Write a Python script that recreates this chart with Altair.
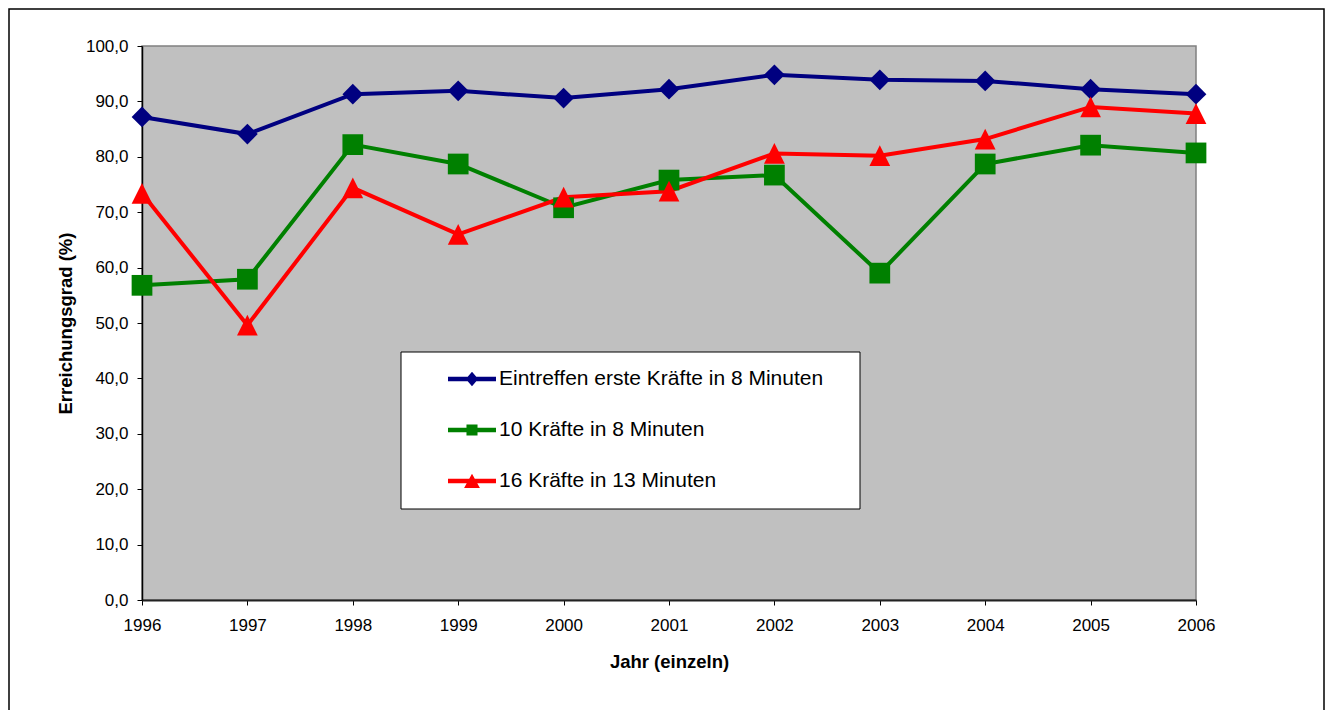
import altair as alt
import pandas as pd

years = [1996, 1997, 1998, 1999, 2000, 2001, 2002, 2003, 2004, 2005, 2006]
series_names = [
    "Eintreffen erste Kräfte in 8 Minuten",
    "10 Kräfte in 8 Minuten",
    "16 Kräfte in 13 Minuten",
]
blue_vals = [87.2, 84.1, 91.3, 91.9, 90.6, 92.2, 94.8, 93.9, 93.7, 92.2, 91.3]
green_vals = [56.8, 57.9, 82.2, 78.7, 70.8, 75.8, 76.7, 59.0, 78.7, 82.1, 80.7]
red_vals = [73.4, 49.6, 74.4, 66.0, 72.7, 73.8, 80.6, 80.2, 83.2, 89.0, 87.8]
colors = ["#000080", "#008000", "#FF0000"]
y_ticks = [0, 10, 20, 30, 40, 50, 60, 70, 80, 90, 100]

rows = []
for name, vals in zip(series_names, [blue_vals, green_vals, red_vals]):
    for yr, v in zip(years, vals):
        rows.append({"year": yr, "value": v, "series": name})
df = pd.DataFrame(rows)

FONT = "Liberation Sans"
W, H = 1054, 554

marker_shapes = ["diamond", "square", "M0,-1L1,1L-1,1Z"]
legend_paths = [
    "M-1,-0.09H1V0.09H-1Z M0,-0.3L0.26,0L0,0.3L-0.26,0Z",
    "M-1,-0.09H1V0.09H-1Z M-0.23,-0.23H0.23V0.23H-0.23Z",
    "M-1,-0.09H1V0.09H-1Z M0,-0.3L0.33,0.29L-0.33,0.29Z",
]

x_enc = alt.X(
    "year:Q",
    scale=alt.Scale(domain=[1996, 2006], nice=False, zero=False),
    axis=alt.Axis(
        values=years, format="d", title="Jahr (einzeln)", grid=False,
        tickSize=5, labelPadding=12, labelFontSize=17, labelFont=FONT,
        labelColor="black", tickColor="black", domainColor="#222222", domainWidth=2,
        titleFont=FONT, titleFontSize=18.5, titleFontWeight="bold", titleColor="black",
        titleX=527, titleY=61, titleBaseline="middle", titleAlign="center",
        labelFlush=False, labelOverlap=False,
    ),
)
y_enc = alt.Y(
    "value:Q",
    scale=alt.Scale(domain=[0, 100], nice=False),
    axis=alt.Axis(
        values=y_ticks, title="Erreichungsgrad (%)", grid=False,
        labelExpr="replace(format(datum.value, '.1f'), '.', ',')",
        tickSize=5, labelPadding=9, labelFontSize=17, labelFont=FONT,
        labelColor="black", tickColor="black", domainColor="black", domainWidth=1.5,
        titleFont=FONT, titleFontSize=18.5, titleFontWeight="bold", titleColor="black",
        titleX=-77, titleY=H / 2, titleAngle=270, titleBaseline="middle", titleAlign="center",
        labelFlush=False, labelOverlap=False,
    ),
)

frame = alt.Chart(alt.Data(values=[{"k": 1}])).mark_rect(
    fillOpacity=0, stroke="black", strokeWidth=1.5
).encode(x=alt.value(-133), x2=alt.value(1182), y=alt.value(-37), y2=alt.value(720))

lines = alt.Chart(df).mark_line(strokeWidth=4).encode(
    x=x_enc, y=y_enc,
    color=alt.Color("series:N", scale=alt.Scale(domain=series_names, range=colors), legend=None),
    order="year:Q",
)

points = alt.Chart(df).mark_point(filled=True, opacity=1, size=430).encode(
    x="year:Q", y="value:Q",
    color=alt.Color("series:N", scale=alt.Scale(domain=series_names, range=colors), legend=None),
    shape=alt.Shape("series:N", scale=alt.Scale(domain=series_names, range=marker_shapes), legend=None),
)

legend_box = alt.Chart(alt.Data(values=[{"k": 1}])).mark_rect(
    fill="white", stroke="black", strokeWidth=1
).encode(x=alt.value(259), x2=alt.value(718), y=alt.value(306), y2=alt.value(463))

leg = alt.Legend(
    title=None, orient="none", legendX=306, legendY=309, padding=0,
    rowPadding=17, labelOffset=3, labelFontSize=21, labelFont=FONT, labelColor="black",
    labelLimit=600, symbolStrokeWidth=0, symbolOpacity=1, symbolSize=2304,
)
legend_layer = alt.Chart(df).mark_point(filled=True, opacity=0, size=2304).encode(
    x="year:Q", y="value:Q",
    color=alt.Color("series:N", scale=alt.Scale(domain=series_names, range=colors), legend=leg),
    shape=alt.Shape("series:N", scale=alt.Scale(domain=series_names, range=legend_paths), legend=leg),
)

chart = alt.layer(frame, lines, points, legend_box, legend_layer).resolve_scale(
    color="independent", shape="independent"
).properties(
    width=W, height=H,
    padding={"left": 134, "top": 38, "right": 130, "bottom": 110},
    autosize=alt.AutoSizeParams(type="none"),
    background="white",
).configure_view(
    fill="#C0C0C0", stroke="#808080", strokeWidth=1.5
)

chart.save("out.html", embed_options={"renderer": "svg", "actions": False})
